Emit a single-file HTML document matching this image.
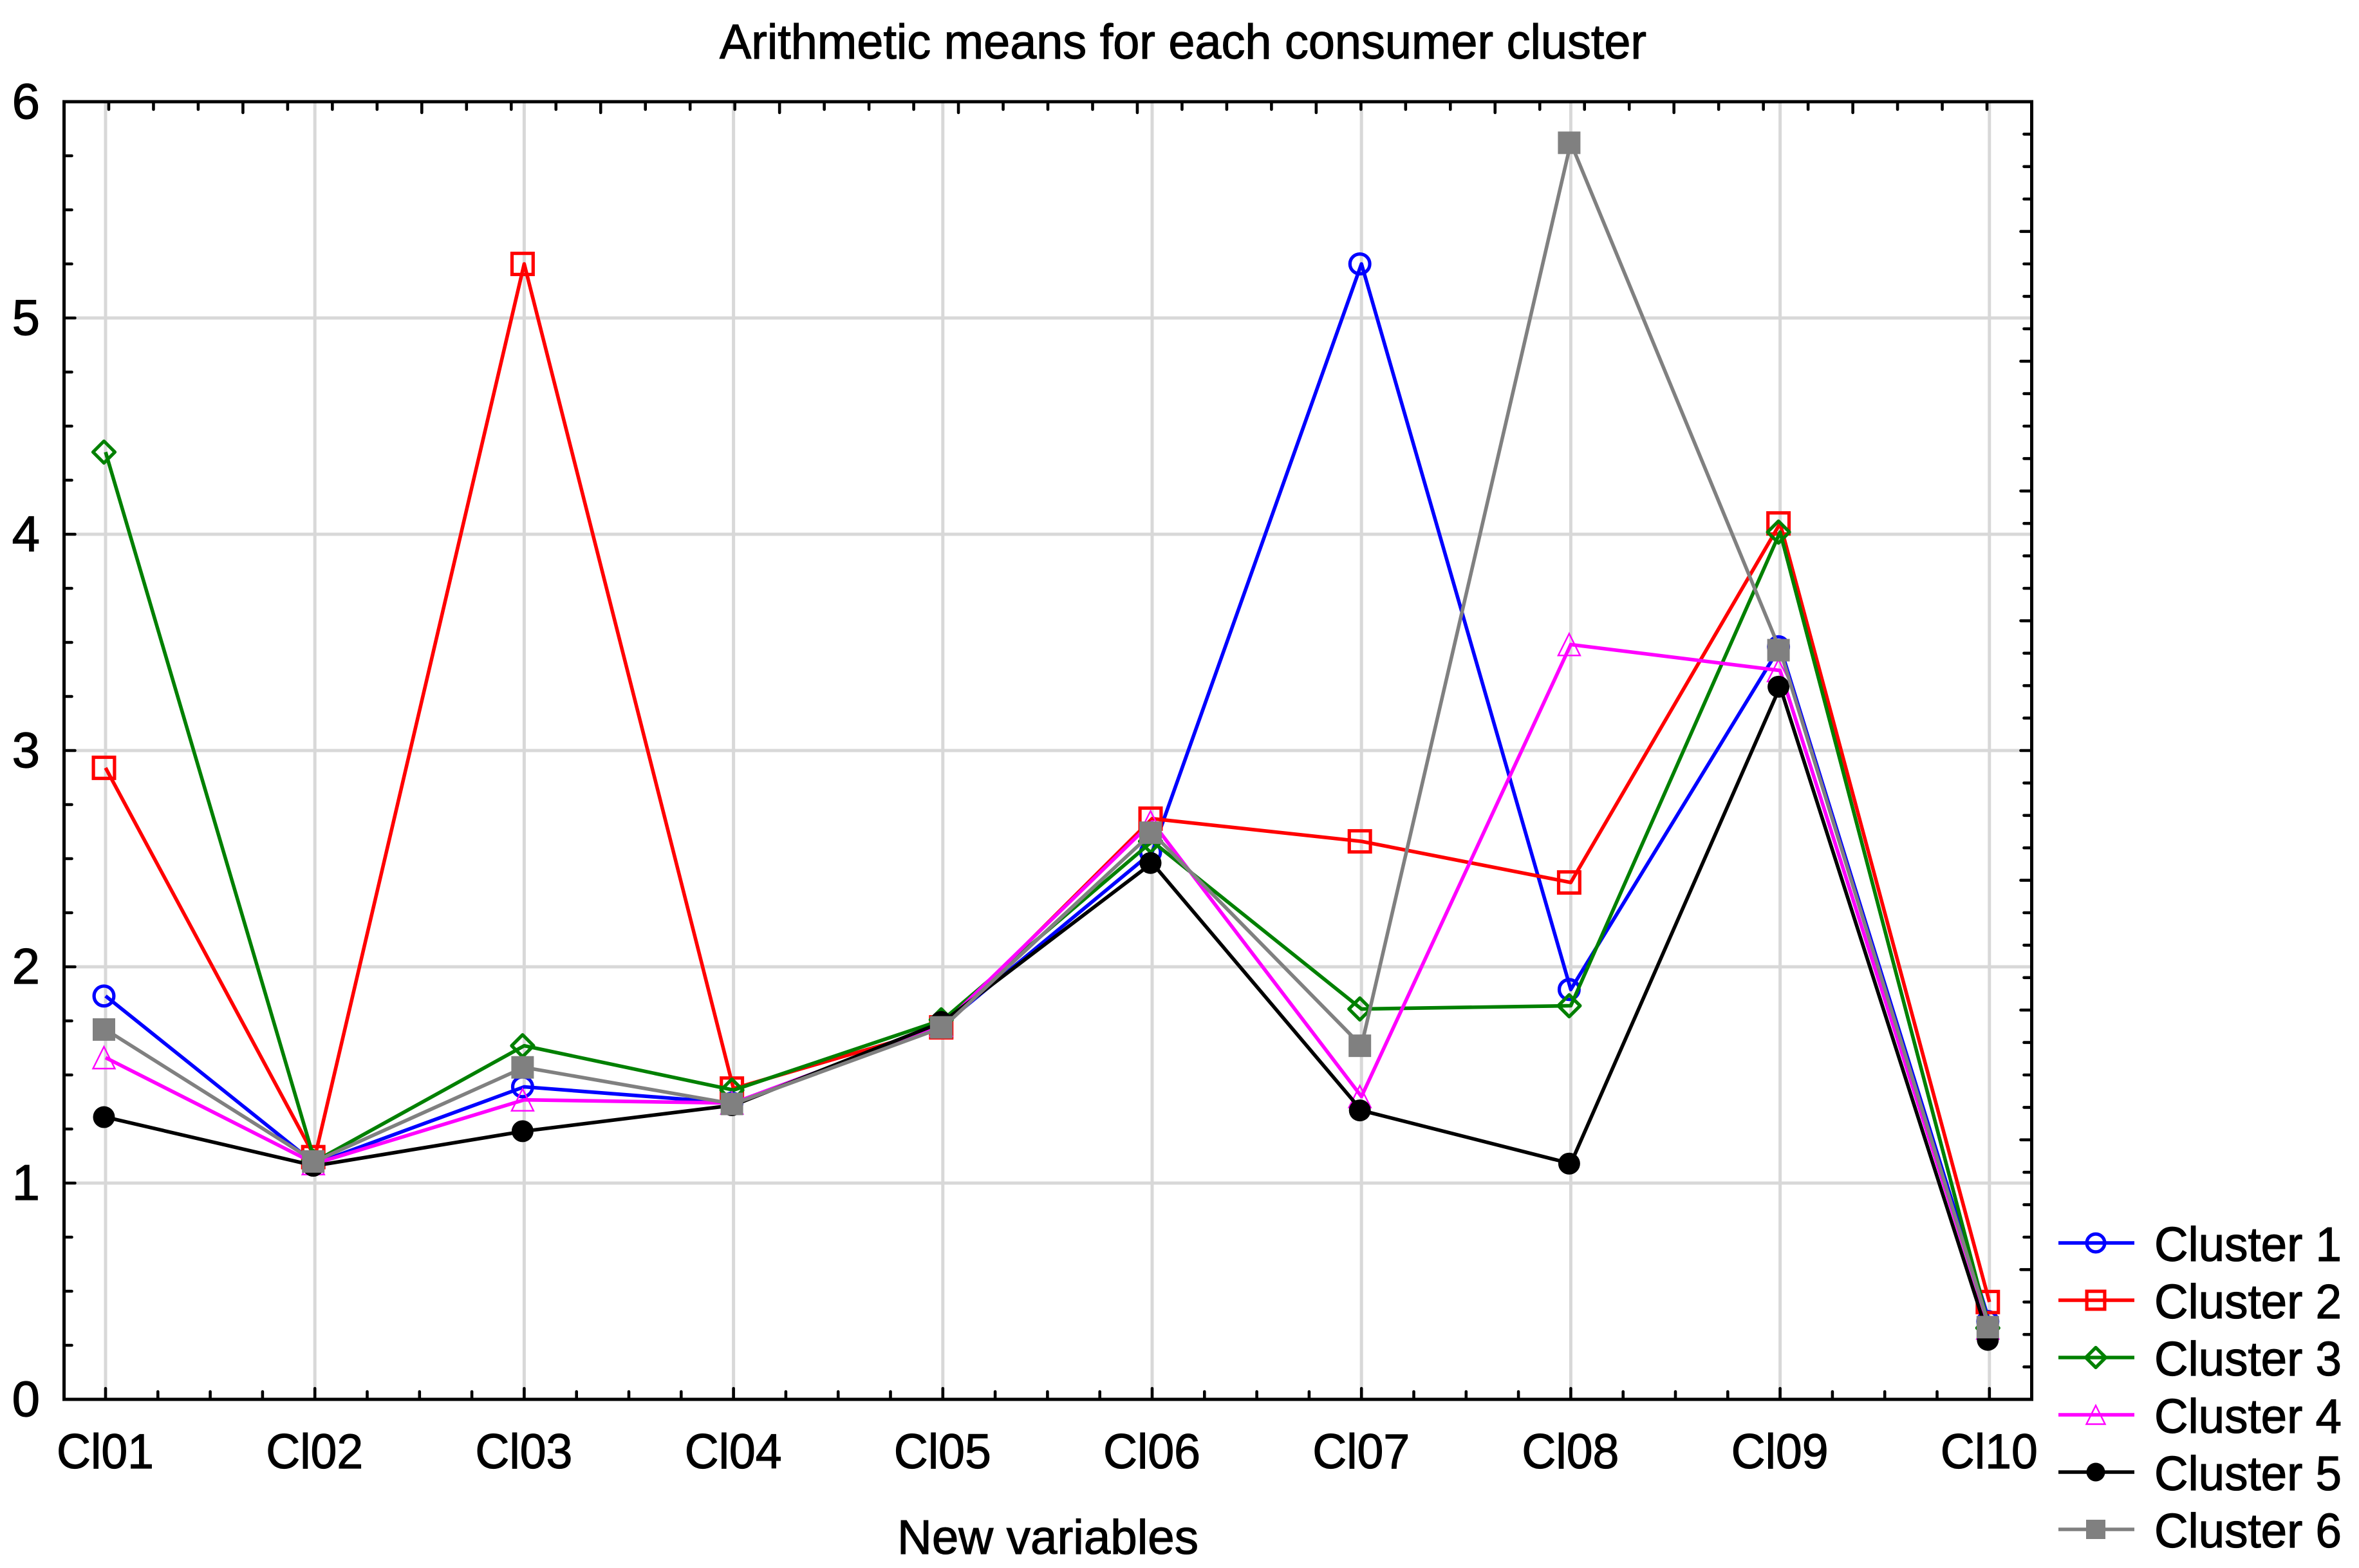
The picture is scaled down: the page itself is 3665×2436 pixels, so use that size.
<!DOCTYPE html>
<html lang="en">
<head>
<meta charset="utf-8">
<title>Arithmetic means for each consumer cluster</title>
<style>
  html, body { margin: 0; padding: 0; background: #fff; }
  svg { display: block; }
  text { font-family: "Liberation Sans", Arial, sans-serif; fill: #000; stroke: #000; stroke-width: 1.2; }
</style>
</head>
<body>
<svg id="chart" xmlns="http://www.w3.org/2000/svg" width="3665" height="2436" viewBox="0 0 3665 2436">
  <rect x="0" y="0" width="3665" height="2436" fill="#ffffff"/>
  <text x="1118" y="91" font-size="76" textLength="1440" lengthAdjust="spacingAndGlyphs">Arithmetic means for each consumer cluster</text>
  <text x="1394" y="2414" font-size="75" textLength="468" lengthAdjust="spacingAndGlyphs">New variables</text>
  <g id="grid"></g>
  <g id="axes"></g>
  <g id="series"></g>
  <g id="legend"></g>
</svg>
<script>
const categories = ["Cl01", "Cl02", "Cl03", "Cl04", "Cl05", "Cl06", "Cl07", "Cl08", "Cl09", "Cl10"];
const yTickLabels = ["0", "1", "2", "3", "4", "5", "6"];
const cluster1 = [1.865, 1.09, 1.445, 1.37, 1.73, 2.53, 5.25, 1.895, 3.48, 0.36];
const cluster2 = [2.92, 1.12, 5.25, 1.437, 1.72, 2.685, 2.58, 2.39, 4.05, 0.45];
const cluster3 = [4.38, 1.10, 1.635, 1.43, 1.755, 2.58, 1.805, 1.82, 4.01, 0.33];
const cluster4 = [1.58, 1.09, 1.385, 1.37, 1.73, 2.67, 1.40, 3.49, 3.37, 0.33];
const cluster5 = [1.305, 1.08, 1.24, 1.36, 1.745, 2.48, 1.336, 1.09, 3.295, 0.275];
const cluster6 = [1.71, 1.10, 1.535, 1.366, 1.72, 2.62, 1.635, 5.81, 3.464, 0.334];
const seriesNames = ["Cluster 1", "Cluster 2", "Cluster 3", "Cluster 4", "Cluster 5", "Cluster 6"];
const seriesValues = [cluster1, cluster2, cluster3, cluster4, cluster5, cluster6];
const seriesColors = ["#0000ff", "#ff0000", "#008000", "#ff00ff", "#000000", "#808080"];
const seriesMarkers = ["circle", "square", "diamond", "triangle", "dot", "block"];

const NS = "http://www.w3.org/2000/svg";
const plot = { left: 99.5, right: 3156.5, top: 158, bottom: 2174 };
const yMax = 6;
const catStart = 164;
const catStep = 325.2;

function xScale(i) { return catStart + catStep * i; }
function yScale(v) { return plot.bottom - (v / yMax) * (plot.bottom - plot.top); }

function make(tag, attrs, parent) {
  const n = document.createElementNS(NS, tag);
  for (const k in attrs) n.setAttribute(k, attrs[k]);
  parent.appendChild(n);
  return n;
}

const gridG = document.getElementById("grid");
const axesG = document.getElementById("axes");
const seriesG = document.getElementById("series");
const legendG = document.getElementById("legend");

/* grid */
yTickLabels.forEach(function (label, i) {
  const v = Number(label);
  if (v <= 0 || v >= yMax) return;
  const g = make("line", { x1: plot.left, x2: plot.right, y1: yScale(v), y2: yScale(v), stroke: "#d8d8d8", "stroke-width": 5 }, gridG);
  
  
});
categories.forEach(function (c, i) {
  const g = make("line", { x1: xScale(i), x2: xScale(i), y1: plot.top, y2: plot.bottom, stroke: "#d8d8d8", "stroke-width": 5 }, gridG);
  
  
});

/* ticks */
function tick(x1, y1, x2, y2, name) {
  const t = make("line", { x1: x1, y1: y1, x2: x2, y2: y2, stroke: "#000", "stroke-width": 4.6, "stroke-linecap": "round" }, axesG);
  
  
}
const plotW = plot.right - plot.left;
const plotH = plot.bottom - plot.top;
/* left axis: sub-ticks every quarter unit */
for (let k = 1; k < yMax * 4; k++) {
  const y = plot.bottom - plotH * k / (yMax * 4);
  tick(plot.left, y, plot.left + (k % 4 === 0 ? 17 : 12), y, 'left-axis-tick');
}
/* right axis: ten major divisions, four subdivisions each */
for (let k = 1; k < 40; k++) {
  const y = plot.bottom - plotH * k / 40;
  tick(plot.right, y, plot.right - (k % 4 === 0 ? 17 : 12), y, 'right-axis-tick');
}
/* top axis: eleven major divisions, four subdivisions each */
for (let k = 1; k < 44; k++) {
  const x = plot.left + plotW * k / 44;
  tick(x, plot.top, x, plot.top + (k % 4 === 0 ? 17 : 12), 'top-axis-tick');
}
/* bottom axis: tick at each category with three minor between */
for (let k = 0; k <= (categories.length - 1) * 4; k++) {
  const x = catStart + catStep * k / 4;
  tick(x, plot.bottom, x, plot.bottom - (k % 4 === 0 ? 17 : 12), 'bottom-axis-tick');
}

/* axis frame */
const frame = make("rect", { x: plot.left, y: plot.top, width: plotW, height: plotH, fill: "none", stroke: "#000", "stroke-width": 5 }, axesG);



/* tick labels */
yTickLabels.forEach(function (label) {
  const t = make("text", { x: 62, y: yScale(Number(label)) + 26, "font-size": 78, "text-anchor": "end" }, axesG);
  t.textContent = label;
  
  
});
categories.forEach(function (c, i) {
  const t = make("text", { x: xScale(i) - 76, y: 2281, "font-size": 76, textLength: 151, lengthAdjust: "spacingAndGlyphs" }, axesG);
  t.textContent = c;
  
  
});

/* markers */
function marker(kind, color, cx, cy, size, parent) {
  const r = size / 2;
  let m;
  if (kind === "circle") {
    m = make("circle", { cx: cx, cy: cy, r: r - 2.6, fill: "none", stroke: color, "stroke-width": 5.2 }, parent);
  } else if (kind === "square") {
    m = make("rect", { x: cx - r + 2.6, y: cy - r + 2.6, width: size - 5.2, height: size - 5.2, fill: "none", stroke: color, "stroke-width": 5.2 }, parent);
  } else if (kind === "diamond") {
    m = make("polygon", { points: (cx) + "," + (cy - r + 2) + " " + (cx + r - 2) + "," + cy + " " + cx + "," + (cy + r - 2) + " " + (cx - r + 2) + "," + cy, fill: "none", stroke: color, "stroke-width": 5.2, "stroke-linejoin": "round" }, parent);
  } else if (kind === "triangle") {
    m = make("polygon", { points: cx + "," + (cy - r) + " " + (cx + r) + "," + (cy + r) + " " + (cx - r) + "," + (cy + r), fill: "none", stroke: color, "stroke-width": 2.4 }, parent);
  } else if (kind === "dot") {
    m = make("circle", { cx: cx, cy: cy, r: r, fill: color }, parent);
  } else {
    m = make("rect", { x: cx - r, y: cy - r, width: size, height: size, fill: color }, parent);
  }
  return m;
}

const plotMarkerSizes = [36, 38, 38, 34, 34, 35];
const legendMarkerSizes = [33, 33, 35, 29, 29, 30];
const markerOffsetX = -2.5;

/* series */
seriesNames.forEach(function (name, s) {
  const values = seriesValues[s];
  const color = seriesColors[s];
  const group = make("g", {}, seriesG);
  
  
  const pts = values.map(function (v, i) { return xScale(i) + "," + yScale(v); }).join(" ");
  const line = make("polyline", { points: pts, fill: "none", stroke: color, "stroke-width": 5.6, "stroke-linejoin": "round" }, group);
  
  
  values.forEach(function (v, i) {
    const m = marker(seriesMarkers[s], color, xScale(i) + markerOffsetX, yScale(v), plotMarkerSizes[s], group);
    
    
  });
});

/* legend */
const legendTop = 1931;
const legendStep = 89;
seriesNames.forEach(function (name, s) {
  const y = legendTop + legendStep * s;
  const entry = make("g", {}, legendG);
  
  
  const l = make("line", { x1: 3198, x2: 3316, y1: y, y2: y, stroke: seriesColors[s], "stroke-width": 5.4 }, entry);
  
  
  const m = marker(seriesMarkers[s], seriesColors[s], 3256, y, legendMarkerSizes[s], entry);
  
  
  const t = make("text", { x: 3347, y: y + 28, "font-size": 75, textLength: 291, lengthAdjust: "spacingAndGlyphs" }, entry);
  t.textContent = name;
  
  
});
</script>
</body>
</html>
